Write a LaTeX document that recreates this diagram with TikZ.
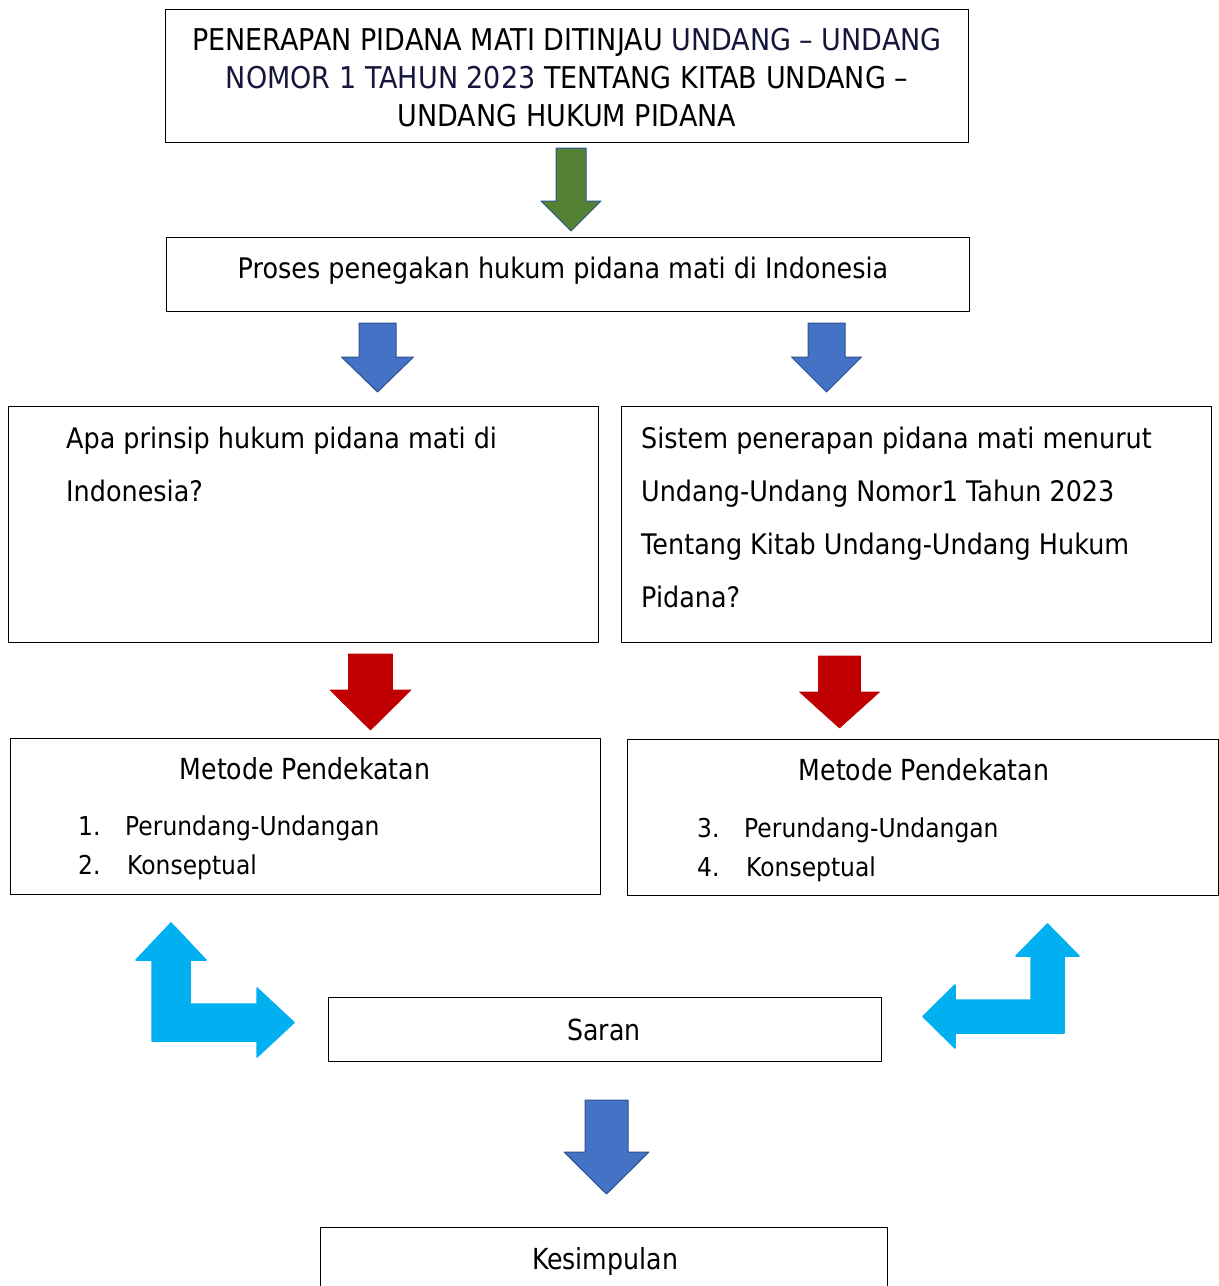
\documentclass[tikz,border=0pt]{standalone}
\usepackage{fontspec}
\setmainfont{DejaVu Sans}
\newfontfamily\tah{DejaVu Sans}[FakeStretch=0.9]
\newfontfamily\cnd{DejaVu Sans}[FakeStretch=0.87]
\newfontfamily\ttl{DejaVu Sans}[FakeStretch=0.9]
\definecolor{navyt}{HTML}{16163C}
\definecolor{agreen}{HTML}{548235}
\definecolor{ablue}{HTML}{4472C4}
\definecolor{aedge}{HTML}{2F528F}
\definecolor{ared}{HTML}{C00000}
\definecolor{acyan}{HTML}{00B0F0}
\newcommand\blockdown[7]{%
  \filldraw[#7] ({#1-#3},#2) -- ({#1+#3},#2) -- ({#1+#3},#5) -- ({#1+#4},#5)
    -- (#1,#6) -- ({#1-#4},#5) -- ({#1-#3},#5) -- cycle;}
\begin{document}
\begin{tikzpicture}[x=1pt,y=-1pt,
  box/.style={draw=black, line width=1.4pt, rectangle, inner sep=0pt, anchor=north west},
  tt/.style={inner sep=0pt, anchor=base west, font=\tah\fontsize{28.3}{32}\selectfont},
  ttc/.style={inner sep=0pt, anchor=base, font=\cnd\fontsize{29}{32}\selectfont},
  ttt/.style={inner sep=0pt, anchor=base, font=\ttl\fontsize{30}{32}\selectfont},
  it/.style={inner sep=0pt, anchor=base west, font=\tah\fontsize{26}{28}\selectfont},
  greenarr/.style={fill=agreen, draw=aedge, line width=1pt, line join=round},
  bluearr/.style={fill=ablue, draw=aedge, line width=1pt, line join=round},
  redarr/.style={fill=ared, draw=ared, line width=0.6pt, line join=round},
  cyanarr/.style={fill=acyan, draw=acyan, line width=1.5pt, line join=round}]
\useasboundingbox[fill=white] (0,0) rectangle (1219,1286);

% boxes
\node[box, minimum width=803pt, minimum height=133pt] (title) at (165,9) {};
\node[box, minimum width=803pt, minimum height=74pt] (proses) at (166,237) {};
\node[box, minimum width=590pt, minimum height=236pt] (q1) at (8,406) {};
\node[box, minimum width=590pt, minimum height=236pt] (q2) at (621,406) {};
\node[box, minimum width=590pt, minimum height=156pt] (m1) at (10,738) {};
\node[box, minimum width=591pt, minimum height=156pt] (m2) at (627,739) {};
\node[box, minimum width=553pt, minimum height=64pt] (saran) at (328,997) {};
\node[box, minimum width=567pt, minimum height=70pt] (kes) at (320,1227) {};

% title text
\node[ttt] (ti1) at (567,50) {PENERAPAN PIDANA MATI DITINJAU \textcolor{navyt}{UNDANG – UNDANG}};
\node[ttt] (ti2) at (567,88) {\textcolor{navyt}{NOMOR 1 TAHUN 2023} TENTANG KITAB UNDANG –};
\node[ttt] (ti3) at (567,126) {UNDANG HUKUM PIDANA};

% proses
\node[tt, anchor=base] (pt) at (563,278) {Proses penegakan hukum pidana mati di Indonesia};

% questions
\node[tt] (q1a) at (66,448) {Apa prinsip hukum pidana mati di};
\node[tt] (q1b) at (66,501) {Indonesia?};
\node[tt] (q2a) at (641,448) {Sistem penerapan pidana mati menurut};
\node[tt] (q2b) at (641,501) {Undang-Undang Nomor1 Tahun 2023};
\node[tt] (q2c) at (641,554) {Tentang Kitab Undang-Undang Hukum};
\node[tt] (q2d) at (641,607) {Pidana?};

% metode
\node[ttc] (m1h) at (305,779) {Metode Pendekatan};
\node[it] (m1n1) at (78,835) {1.};
\node[it] (m1i1) at (125,835) {Perundang-Undangan};
\node[it] (m1n2) at (78,874) {2.};
\node[it] (m1i2) at (127,874) {Konseptual};
\node[ttc] (m2h) at (924,780) {Metode Pendekatan};
\node[it] (m2n1) at (697,837) {3.};
\node[it] (m2i1) at (744,837) {Perundang-Undangan};
\node[it] (m2n2) at (697,876) {4.};
\node[it] (m2i2) at (746,876) {Konseptual};

% saran, kesimpulan
\node[ttc] (st) at (604,1040) {Saran};
\node[ttc] (kt) at (605,1269) {Kesimpulan};

% block arrows
\blockdown{571}{148}{15}{30}{201}{231}{greenarr}
\blockdown{377.5}{323}{18.5}{36}{357}{392}{bluearr}
\blockdown{826.5}{323}{18.5}{35}{357}{392}{bluearr}
\blockdown{370.5}{654}{22}{40.5}{690}{730}{redarr}
\blockdown{839.5}{656}{21}{40}{692}{728}{redarr}
\blockdown{606.5}{1100}{21.5}{42.5}{1152}{1194}{bluearr}

% cyan bent arrows
\filldraw[cyanarr] (152,1041) -- (152,960) -- (136,960) -- (171,923) -- (206,960)
  -- (190,960) -- (190,1004) -- (257,1004) -- (257,988) -- (294,1022.5)
  -- (257,1057) -- (257,1041) -- cycle;
\filldraw[cyanarr] (1064,1033) -- (1064,956) -- (1079,956) -- (1047.5,924)
  -- (1016,956) -- (1031,956) -- (1031,1000) -- (955,1000) -- (955,985)
  -- (923,1016.5) -- (955,1048) -- (955,1033) -- cycle;
\end{tikzpicture}
\end{document}
